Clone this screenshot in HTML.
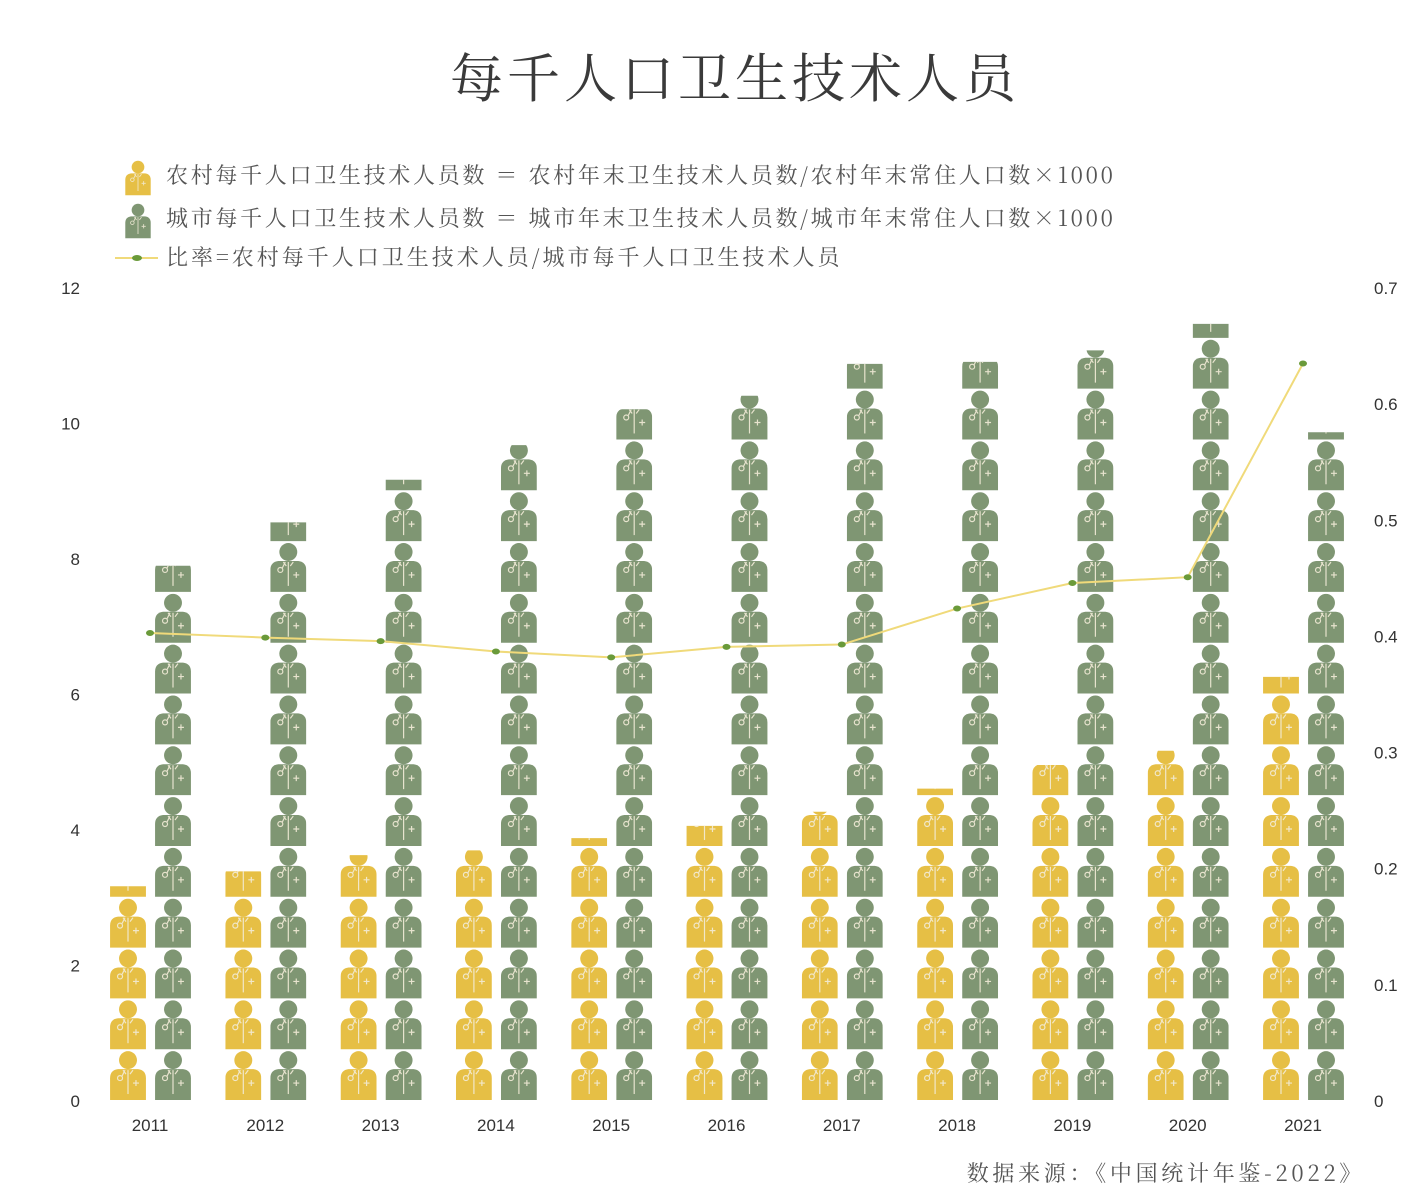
<!DOCTYPE html>
<html><head><meta charset="utf-8"><style>
body{margin:0;background:#fff;}
svg{display:block;}
text{font-family:"Liberation Sans","Noto Sans CJK SC",sans-serif;}
.t{font-family:"Noto Serif CJK SC","Liberation Serif",serif;}
</style></head><body>
<svg id="chart" width="1410" height="1195" viewBox="0 0 1410 1195" xmlns="http://www.w3.org/2000/svg">
<defs>
<symbol id="doc" viewBox="0 0 36 51">
<circle cx="18" cy="10" r="9"/>
<path d="M0 50 L0 28 Q0 20 8 19 L28 19 Q36 20 36 28 L36 50 Z"/>
<g fill="none" stroke="#f3ecd8" stroke-width="1.2" opacity="0.9">
<path d="M18 20 L18 44"/><path d="M13 20 L16 24 M23 20 L20 24"/>
<circle cx="10" cy="28" r="2.5"/><path d="M12 26 Q14 22 15 20"/>
<path d="M26 30 L26 36 M23 33 L29 33"/>
</g>
</symbol>
</defs>
<text class="t" x="735" y="97" text-anchor="middle" font-size="53" fill="#3a3a3a" letter-spacing="4">每千人口卫生技术人员</text>
<g class="t" font-size="22" fill="#555" letter-spacing="2.7">
<g><use href="#doc" x="125" y="160" width="26" height="36" fill="#e6bf45"/><text x="166" y="183" class="t">农村每千人口卫生技术人员数 ＝ 农村年末卫生技术人员数/农村年末常住人口数×1000</text></g>
<g><use href="#doc" x="125" y="203" width="26" height="36" fill="#7f9673"/><text x="166" y="226" class="t">城市每千人口卫生技术人员数 ＝ 城市年末卫生技术人员数/城市年末常住人口数×1000</text></g>
<g><line x1="115" y1="258" x2="158" y2="258" stroke="#f0da7a" stroke-width="2"/><ellipse cx="137" cy="258" rx="5" ry="3" fill="#6a9a3a"/><text x="166" y="265" class="t" letter-spacing="3">比率=农村每千人口卫生技术人员/城市每千人口卫生技术人员</text></g>
</g>
<g id="axes"></g>
<g id="bars"></g>
<g id="line"></g>
<text class="t" x="1365" y="1181" text-anchor="end" font-size="22" fill="#555" letter-spacing="3.7">数据来源：《中国统计年鉴-2022》</text>
</svg>
<script>
const years=['2011','2012','2013','2014','2015','2016','2017','2018','2019','2020','2021'];
const rural=[3.17,3.39,3.63,3.70,3.88,4.06,4.27,4.61,4.96,5.17,6.26];
const urban=[7.90,8.54,9.17,9.68,10.21,10.41,10.88,10.91,11.08,11.47,9.87];
const ratio=[0.403,0.399,0.396,0.387,0.382,0.391,0.393,0.424,0.446,0.451,0.635];
const leftTicks=[0,2,4,6,8,10,12];
const rightTicks=[0,0.1,0.2,0.3,0.4,0.5,0.6,0.7];
const NS='http://www.w3.org/2000/svg';
const y0=1101,yTop=288;
const yL=v=>y0-(y0-yTop)*v/12;
const yR=v=>y0-(y0-yTop)*v/0.7;
const xC=i=>150+i*115.3;
function mk(t,a,p){const e=document.createElementNS(NS,t);for(const k in a)e.setAttribute(k,a[k]);p.appendChild(e);return e;}
const axes=document.getElementById('axes');
leftTicks.forEach(v=>{const t=mk('text',{x:80,y:yL(v)+6,'text-anchor':'end','font-size':17,fill:'#333'},axes);t.textContent=v;

});
rightTicks.forEach(v=>{const t=mk('text',{x:1374,y:yR(v)+6,'font-size':17,fill:'#333'},axes);t.textContent=v;

});
years.forEach((y,i)=>{const t=mk('text',{x:xC(i),y:1131,'text-anchor':'middle','font-size':17,fill:'#333'},axes);t.textContent=y;

});
const bars=document.getElementById('bars');
const unit=0.75, cellH=(y0-yTop)*unit/12;
function bar(i,v,dx,col,name){
 const id='c'+name+i;
 const cp=mk('clipPath',{id:id},bars);
 mk('rect',{x:xC(i)+dx-20,y:yL(v),width:40,height:y0-yL(v)},cp);
 const g=mk('g',{'clip-path':'url(#'+id+')',fill:col},bars);
 
 
 const n=Math.ceil(v/unit);
 for(let k=0;k<n;k++){mk('use',{href:'#doc',x:xC(i)+dx-18,y:y0-(k+1)*cellH,width:36,height:cellH},g);}
}
years.forEach((y,i)=>{bar(i,rural[i],-22,'#e6bf45','rural');bar(i,urban[i],23,'#7f9673','urban');});
const lg=document.getElementById('line');
const pl=mk('polyline',{points:ratio.map((v,i)=>xC(i)+','+yR(v)).join(' '),fill:'none',stroke:'#f0da7a','stroke-width':2},lg);


ratio.forEach((v,i)=>{const e=mk('ellipse',{cx:xC(i),cy:yR(v),rx:4,ry:3,fill:'#6a9a3a'},lg);

});
</script>
</body></html>
